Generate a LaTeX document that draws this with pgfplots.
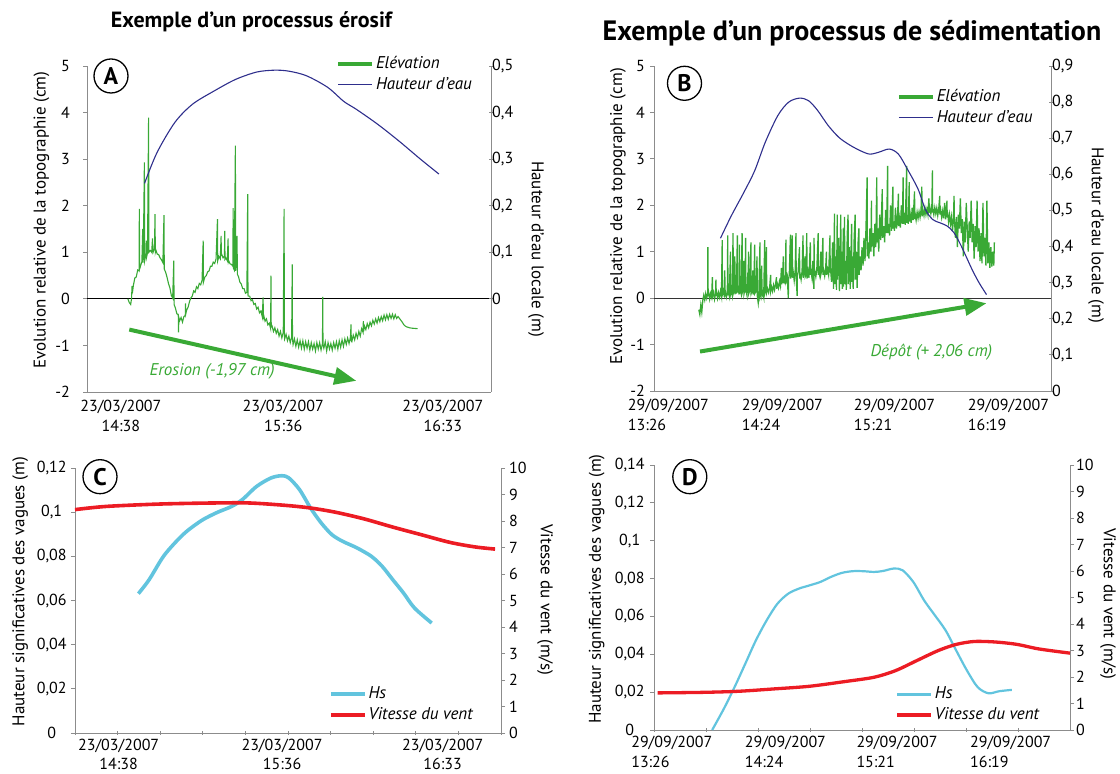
\documentclass[border=0pt]{standalone}
\usepackage{fontspec}
\setmainfont{PT Sans}
\usepackage{pgfplots}
\pgfplotsset{compat=1.18}
\usetikzlibrary{arrows.meta}
\definecolor{elev}{RGB}{57,169,53}
\definecolor{eau}{RGB}{46,46,140}
\definecolor{hs}{RGB}{98,196,222}
\definecolor{vent}{RGB}{236,28,36}
\definecolor{axg}{RGB}{140,140,140}
\newcommand\tf{\fontsize{16}{19.5}\selectfont}
\newcommand\lf{\fontsize{17}{20}\selectfont}
\pgfplotsset{
  panel/.style={scale only axis, clip=false,
    axis line style={draw=axg, line width=0.9pt},
    tick style={draw=axg, line width=0.9pt},
    major tick length=4pt,
    ticklabel style={font=\tf, inner sep=2pt},
    xticklabel style={yshift=-2pt}},
  leftax/.style={panel, axis x line*=bottom, axis y line*=left, tick align=outside},
  rightax/.style={panel, axis x line=none, axis y line*=right, tick align=center},
  leg/.style={legend style={draw=none, fill=none, inner sep=0pt, font=\lf\itshape,
      row sep=2pt, nodes={inner sep=2pt, text height=12pt, text depth=3pt}},
    legend cell align=left,
    legend image code/.code={\draw[##1] (0pt,0pt) -- (34pt,0pt);}},
}
\begin{document}
\begin{tikzpicture}
\path[use as bounding box] (0pt,0pt) rectangle (1120pt,774pt);
\node[font=\fontsize{22}{26}\selectfont\bfseries] at (251.5pt,752pt) {Exemple d'un processus érosif};
\node[font=\fontsize{28}{32}\selectfont\bfseries] at (852pt,741pt) {Exemple d'un processus de sédimentation};

% ================= Panel A =================
\begin{axis}[leftax, at={(87pt,382pt)}, anchor=south west, width=404pt, height=326pt,
  xmin=-12.1, xmax=132.2, ymin=-2, ymax=5,
  xtick={0,58,115}, xticklabels={{23/03/2007\\14:38},{23/03/2007\\15:36},{23/03/2007\\16:33}},
  xticklabel style={align=center}, xtick style={draw=none},
  ytick={-2,-1,0,1,2,3,4,5}, yticklabels={-2,-1,0,1,2,3,4,5}, yticklabel style={xshift=-11pt}]
\draw[black, line width=0.9pt] (axis cs:-12.1,0) -- (axis cs:132.2,0);
\addplot[elev, line width=1.1pt] table {
2.5 0.0
3.0 -0.08
3.5 -0.12
3.8 0.0
4.0 0.28
4.1 0.12
4.5 0.3
5.0 0.45
5.5 0.47
6.0 0.62
6.5 0.6
6.6 1.93
6.7 0.64
7.0 0.7
7.5 0.8
7.8 1.5
7.9 0.78
8.0 0.86
8.4 2.93
8.5 0.82
9.0 0.97
9.1 1.25
9.2 0.9
9.5 0.98
9.9 3.89
10.0 1.0
10.5 1.04
11.0 1.0
11.3 1.3
11.4 1.06
11.5 1.0
12.0 1.08
12.2 1.82
12.3 1.0
12.5 1.05
13.0 0.96
13.5 0.95
14.0 0.88
14.5 0.84
15.0 0.78
15.4 1.8
15.5 0.64
16.0 0.57
16.5 0.46
17.0 0.33
17.5 0.24
18.0 0.08
18.5 0.02
18.9 0.82
19.0 -0.12
19.5 -0.2
20.0 -0.32
20.5 -0.34
20.6 -0.72
20.7 -0.4
21.0 -0.47
21.5 -0.4
22.0 -0.5
22.5 -0.38
23.0 -0.36
23.1 -0.1
23.2 -0.32
23.5 -0.24
24.0 -0.18
24.5 -0.06
25.0 0.02
25.5 0.06
26.0 0.17
26.5 0.14
27.0 0.26
27.5 0.22
28.0 0.33
28.5 0.3
29.0 0.4
29.4 1.25
29.5 0.36
30.0 0.47
30.5 0.5
31.0 0.58
31.5 0.6
32.0 0.7
32.5 0.7
33.0 0.79
33.5 0.76
34.0 0.86
34.5 1.71
34.6 0.82
35.0 0.91
35.5 0.86
35.8 1.35
35.9 0.92
36.0 0.96
36.5 0.88
37.0 0.92
37.1 1.46
37.2 0.85
37.5 0.88
38.0 0.82
38.3 1.3
38.4 0.8
38.5 0.82
39.0 0.75
39.5 0.74
40.0 0.7
40.1 1.95
40.2 0.66
40.5 0.62
40.9 3.29
41.0 0.6
41.5 1.35
41.6 0.53
42.0 0.48
42.5 0.36
43.0 0.32
43.5 0.22
44.0 0.22
44.5 0.12
45.0 0.14
45.3 2.25
45.4 0.08
45.5 0.06
46.0 0.06
46.5 -0.04
47.0 -0.02
47.5 -0.12
48.0 -0.1
48.5 -0.22
49.0 -0.18
49.5 -0.3
50.0 -0.26
50.5 -0.38
50.8 0.03
50.9 -0.38
51.0 -0.35
51.5 -0.48
52.0 -0.43
52.5 -0.56
53.0 -0.52
53.5 -0.64
53.6 0.5
53.7 -0.6
54.0 -0.58
54.5 -0.7
55.0 -0.62
55.5 -0.74
56.0 -0.66
56.5 -0.8
57.0 -0.7
57.5 -0.84
58.0 -0.72
58.3 1.93
58.4 -0.78
58.5 -0.86
59.0 -0.76
59.5 -0.9
60.0 -0.8
60.5 -0.94
61.0 -0.82
61.2 0.74
61.3 -0.86
61.5 -0.98
62.0 -0.86
62.5 -1.02
63.0 -0.88
63.5 -1.04
64.0 -0.9
64.5 -1.06
65.0 -0.9
65.5 -1.08
66.0 -0.92
66.5 -1.06
67.0 -0.92
67.5 -1.1
68.0 -0.94
68.5 -1.08
69.0 -0.96
69.5 -1.12
70.0 -0.94
70.5 -1.08
71.0 -0.94
71.5 -1.1
72.0 -0.96
72.1 0.04
72.2 -0.98
72.5 -1.06
73.0 -0.92
73.5 -1.12
74.0 -0.94
74.5 -1.08
75.0 -0.96
75.5 -1.1
76.0 -0.94
76.5 -1.06
77.0 -0.92
77.5 -1.08
78.0 -0.9
78.5 -1.04
79.0 -0.88
79.5 -1.02
80.0 -0.86
80.5 -0.98
81.0 -0.84
81.5 -0.96
82.0 -0.82
82.2 -0.55
82.3 -0.9
82.5 -0.92
83.0 -0.78
83.5 -0.88
84.0 -0.74
84.5 -0.84
85.0 -0.7
85.5 -0.8
86.0 -0.64
86.5 -0.72
86.6 -0.48
86.7 -0.7
87.0 -0.58
87.5 -0.66
88.0 -0.53
88.5 -0.62
89.0 -0.5
89.5 -0.58
90.0 -0.46
90.5 -0.54
91.0 -0.43
91.5 -0.52
92.0 -0.4
92.5 -0.49
93.0 -0.38
93.5 -0.47
94.0 -0.35
94.5 -0.45
95.0 -0.34
95.5 -0.44
96.0 -0.33
96.5 -0.42
97.0 -0.33
97.5 -0.43
98.0 -0.34
98.5 -0.42
99.0 -0.38
99.5 -0.42
100.0 -0.46
100.5 -0.5
101.0 -0.55
101.5 -0.58
102.0 -0.6
103.0 -0.62
104.0 -0.63
106.0 -0.64
};
\draw[elev, line width=4pt, -{Triangle[length=22pt,width=17pt]}] (axis cs:3,-0.66) -- (axis cs:84.1,-1.76);
\node[text=elev, font=\lf\itshape] at (axis cs:32.6,-1.56) {Erosion (-1,97 cm)};
\end{axis}
\begin{axis}[rightax, leg, at={(87pt,382pt)}, anchor=south west, width=404pt, height=326pt,
  xmin=-12.1, xmax=132.2, ymin=-0.2, ymax=0.5,
  ytick={0,0.1,0.2,0.3,0.4,0.5}, yticklabels={0,{0,1},{0,2},{0,3},{0,4},{0,5}},
  yticklabel style={xshift=-3pt},
  legend style={at={(0.616,1.037)}, anchor=north west}]
\addplot[eau, line width=1.1pt, smooth, forget plot] coordinates {
(8.45,0.248) (12.9,0.314) (19.3,0.379) (25.6,0.418) (33.2,0.446) (40.9,0.471) (48.5,0.487)
(54.8,0.491) (59.9,0.489) (66.3,0.479) (73.9,0.454) (79.6,0.424) (84.1,0.407) (91.7,0.375)
(99.3,0.339) (107.0,0.3) (113.6,0.268)};
\addlegendimage{elev, line width=4pt}
\addlegendentry{Elévation}
\addlegendimage{eau, line width=1.2pt}
\addlegendentry{Hauteur d'eau}
\end{axis}

% ================= Panel B =================
\begin{axis}[leftax, at={(654pt,383pt)}, anchor=south west, width=397pt, height=325pt,
  xmin=-7.3, xmax=194.6, ymin=-2, ymax=5,
  xtick={0,58,115,173}, xticklabels={{29/09/2007\\13:26},{29/09/2007\\14:24},{29/09/2007\\15:21},{29/09/2007\\16:19}},
  xticklabel style={align=left}, xtick style={draw=none},
  ytick={-2,-1,0,1,2,3,4,5}, yticklabels={-2,-1,0,1,2,3,4,5}, yticklabel style={xshift=-3pt}]
\draw[black!80, line width=0.9pt] (axis cs:-7.3,0) -- (axis cs:194.6,0);
\addplot[elev, line width=1.3pt] table {
15.5 -0.25
16.0 -0.35
16.5 -0.15
17.0 -0.3
17.5 -0.05
18.0 0.06
18.5 -0.04
19.0 0.1
19.5 0.0
20.0 0.1
20.1 1.1
20.2 0.04
20.5 0.12
21.0 -0.02
21.5 0.1
22.0 0.02
22.4 0.45
22.5 0.04
23.0 0.12
23.5 -0.02
24.0 0.1
24.2 0.4
24.3 0.05
24.5 0.14
25.0 0.0
25.5 0.12
26.0 0.02
26.5 0.15
27.0 0.04
27.4 1.25
27.5 0.08
28.0 0.16
28.5 0.03
28.7 0.6
28.8 0.1
29.0 0.14
29.5 0.02
30.0 0.12
30.2 1.35
30.3 0.06
30.5 0.15
31.0 0.05
31.6 1.0
31.7 0.1
32.0 0.16
32.5 0.06
32.9 1.4
33.0 0.1
33.5 0.18
33.8 0.9
33.9 0.08
34.0 0.12
34.5 0.5
34.6 0.1
35.1 1.35
35.2 0.12
35.5 0.2
36.0 0.08
36.2 1.15
36.3 0.1
36.5 0.2
37.0 0.1
37.5 1.4
37.6 0.12
38.0 0.18
38.4 0.8
38.5 0.1
39.0 0.2
39.3 1.3
39.4 0.12
39.5 0.16
40.0 0.06
40.4 0.55
40.5 0.12
40.8 1.0
40.9 0.1
41.5 0.18
42.0 1.2
42.1 0.1
42.5 0.16
43.0 0.6
43.1 0.08
43.5 0.18
43.9 1.15
44.0 0.1
44.5 0.14
45.1 0.9
45.2 0.06
45.7 -0.1
46.0 0.06
46.6 1.2
46.7 0.04
47.0 0.1
47.5 0.7
47.6 0.05
48.0 0.12
48.5 0.02
49.0 1.25
49.1 0.1
49.5 0.16
49.9 1.1
50.0 0.12
50.5 0.2
51.0 0.12
51.5 0.22
52.0 0.5
52.1 0.16
52.5 0.24
53.0 0.15
53.5 0.28
54.0 0.18
54.5 0.3
55.0 0.45
55.1 0.2
55.5 0.3
56.0 0.22
56.5 0.36
57.0 0.26
57.5 0.65
57.6 0.3
58.0 0.4
58.5 0.9
58.6 0.32
59.0 0.42
59.5 0.3
59.8 1.26
59.9 0.36
60.5 0.46
61.0 0.0
61.1 0.4
61.5 0.5
62.1 1.37
62.2 0.42
62.5 0.52
63.0 1.35
63.1 0.44
63.5 0.56
64.0 0.38
64.5 0.6
64.9 1.4
65.0 0.46
65.5 0.05
65.6 0.48
66.0 0.56
66.7 1.1
66.8 0.42
67.0 0.52
67.5 0.4
68.0 0.58
68.5 1.35
68.6 0.44
69.0 0.56
69.5 0.9
69.6 0.46
70.0 0.5
70.4 1.4
70.5 0.42
71.0 0.58
71.5 0.44
72.2 1.2
72.3 0.5
72.5 0.6
73.0 0.45
73.5 0.8
73.6 0.5
74.0 0.2
74.1 1.3
74.2 0.48
74.5 0.58
75.0 0.46
75.5 0.62
76.2 1.4
76.3 0.5
76.5 0.58
77.0 0.48
77.5 1.0
77.6 0.52
78.0 0.6
78.6 1.3
78.7 0.5
79.0 0.6
79.5 0.48
80.0 0.64
80.4 1.0
80.5 0.5
81.0 0.62
81.5 0.5
82.2 1.35
82.3 0.55
82.5 0.62
83.0 0.35
83.5 1.2
84.0 0.2
84.5 1.82
84.6 0.3
85.0 0.9
85.5 0.18
85.9 1.8
86.0 0.4
86.5 1.3
87.0 0.15
87.7 1.8
87.8 0.3
88.0 1.0
88.5 0.2
89.0 1.5
89.1 0.25
89.6 1.75
89.7 0.3
90.0 0.8
90.5 0.18
91.0 1.4
91.4 1.8
91.5 0.3
92.0 1.1
92.5 0.2
93.0 1.2
93.2 1.6
93.3 0.35
93.5 0.9
94.0 0.2
94.5 1.3
95.0 1.8
95.1 0.4
95.5 1.0
96.0 0.22
96.5 1.2
96.9 1.5
97.0 0.5
97.5 0.9
98.0 0.6
98.5 1.1
99.0 0.7
99.5 1.3
100.0 0.8
100.5 1.5
101.1 2.6
101.2 0.9
101.5 1.2
102.0 0.85
102.5 1.5
103.0 1.0
103.3 2.1
103.4 1.1
104.0 1.4
104.5 0.9
105.0 1.6
105.5 1.1
106.0 2.6
106.1 1.2
106.5 1.5
107.0 1.0
107.5 1.8
108.0 1.25
108.8 2.35
108.9 1.3
109.5 1.55
110.0 1.2
110.5 1.9
111.0 1.4
111.5 2.85
111.6 1.4
112.0 1.6
112.5 1.35
113.0 2.0
113.5 1.45
114.2 2.4
114.3 1.5
114.5 1.65
115.0 1.45
115.5 1.95
116.0 1.5
116.5 1.7
117.0 2.25
117.1 1.55
117.5 1.72
118.0 1.52
118.5 2.0
119.0 1.6
119.4 2.6
119.5 1.6
120.0 1.75
120.5 1.58
121.2 2.85
121.3 1.62
121.5 1.78
122.0 1.6
122.5 2.5
122.6 1.65
123.0 1.8
123.5 1.62
124.0 1.95
124.5 1.68
125.2 2.3
125.3 1.7
125.5 1.82
126.0 1.68
126.5 1.85
127.0 1.72
127.5 1.86
128.0 1.74
128.5 1.9
128.9 2.4
129.0 1.76
129.5 1.9
130.0 1.78
130.5 1.94
131.0 1.8
131.5 1.92
132.0 1.8
132.5 2.15
132.6 1.84
133.0 1.95
133.5 1.82
134.0 1.96
134.3 2.75
134.4 1.84
134.5 1.92
135.0 1.8
135.5 1.95
136.0 1.82
136.5 1.94
137.0 1.78
137.5 1.92
138.0 2.2
138.1 1.8
138.5 1.9
139.0 1.74
139.5 1.88
140.0 1.72
140.5 2.05
141.0 1.7
141.7 2.1
141.8 1.74
142.0 1.85
142.5 1.64
143.0 1.8
143.5 1.6
144.0 1.75
144.5 1.45
145.0 1.72
145.3 2.2
145.4 1.6
145.5 1.7
146.0 1.3
146.5 1.75
147.0 1.1
147.5 1.8
148.0 1.5
148.5 2.15
149.0 1.4
149.5 1.7
150.0 0.9
150.5 1.65
151.0 1.2
151.5 2.05
152.0 1.5
152.5 1.0
153.0 1.65
153.5 1.3
154.0 2.1
154.5 1.2
155.0 1.6
155.5 0.85
156.0 1.55
156.5 1.1
157.0 2.1
157.5 1.0
158.0 1.5
158.5 0.8
159.0 1.4
159.5 0.75
160.0 2.05
160.5 0.9
161.0 1.3
161.5 0.7
162.0 2.1
162.5 0.75
163.0 1.2
163.5 0.65
164.0 1.1
164.5 0.68
165.0 1.0
165.5 0.7
165.8 1.2
};
\draw[elev, line width=4pt, -{Triangle[length=22pt,width=17pt]}] (axis cs:16.1,-1.15) -- (axis cs:161.8,-0.11);
\node[text=elev, font=\lf\itshape] at (axis cs:133.8,-1.17) {Dépôt (+ 2,06 cm)};
\end{axis}
\begin{axis}[rightax, leg, at={(654pt,383pt)}, anchor=south west, width=397pt, height=325pt,
  xmin=-7.3, xmax=194.6, ymin=0, ymax=0.9,
  ytick={0,0.1,0.2,0.3,0.4,0.5,0.6,0.7,0.8,0.9},
  yticklabels={0,{0,1},{0,2},{0,3},{0,4},{0,5},{0,6},{0,7},{0,8},{0,9}},
  yticklabel style={xshift=-3pt},
  legend style={at={(0.611,0.935)}, anchor=north west}]
\addplot[eau, line width=1.1pt, smooth, forget plot] coordinates {
(26.5,0.423) (32.0,0.485) (38.4,0.55) (43.9,0.61) (49.3,0.689) (55.7,0.763) (61.2,0.8)
(66.7,0.811) (71.3,0.804) (75.9,0.777) (81.3,0.735) (86.8,0.702) (92.3,0.681) (97.8,0.665)
(102.4,0.656) (106.9,0.661) (112.4,0.67) (117.0,0.656) (121.6,0.614) (127.0,0.559)
(130.7,0.503) (134.4,0.475) (138.0,0.466) (141.7,0.457) (145.3,0.438) (149.0,0.401)
(154.5,0.336) (158.1,0.299) (161.8,0.267)};
\addlegendimage{elev, line width=4pt}
\addlegendentry{Elévation}
\addlegendimage{eau, line width=1.2pt}
\addlegendentry{Hauteur d'eau}
\end{axis}

% ================= Panel C =================
\begin{axis}[leftax, at={(75pt,41pt)}, anchor=south west, width=426pt, height=265pt,
  xmin=-15.5, xmax=135.7, ymin=0, ymax=0.12,
  xtick={-15.5,-0.38,14.74,29.86,44.98,60.1,75.22,90.34,105.46,120.58,135.7}, xticklabels={},
  xtick align=center,
  extra x ticks={0,58,115},
  extra x tick labels={{23/03/2007\\14:38},{23/03/2007\\15:36},{23/03/2007\\16:33}},
  extra x tick style={xtick style={draw=none}},
  xticklabel style={align=center, yshift=0.5pt},
  ytick={0,0.02,0.04,0.06,0.08,0.1,0.12}, yticklabels={0,{0,02},{0,04},{0,06},{0,08},{0,1},{0,12}},
  yticklabel style={anchor=center, xshift=-19.3pt}]
\addplot[hs, line width=3.6pt, smooth] coordinates {
(7.0,0.0631) (10.8,0.0694) (15.9,0.08) (21.0,0.0875) (24.8,0.092) (29.9,0.0966) (35.0,0.0999)
(40.1,0.1026) (43.9,0.1057) (49.0,0.1117) (54.1,0.1155) (57.9,0.1165) (60.4,0.1155)
(64.2,0.1102) (68.1,0.1019) (71.9,0.0951) (75.7,0.0898) (79.5,0.0868) (84.6,0.0838)
(89.7,0.08) (93.5,0.0755) (97.3,0.0694) (101.1,0.0634) (105.0,0.0566) (111.1,0.0498)};
\end{axis}
\begin{axis}[rightax, leg, at={(75pt,41pt)}, anchor=south west, width=426pt, height=265pt,
  xmin=-15.5, xmax=135.7, ymin=0, ymax=10,
  ytick={0,1,...,10}, yticklabels={0,1,2,3,4,5,6,7,8,9,10}, tick align=outside,
  yticklabel style={xshift=2pt},
  legend style={at={(0.596,0.183)}, anchor=north west}]
\addplot[vent, line width=3.6pt, smooth, forget plot] coordinates {
(-15.5,8.43) (-4.4,8.55) (14.6,8.64) (33.7,8.68) (46.4,8.68) (59.2,8.59) (68.1,8.49)
(77.0,8.33) (87.1,8.08) (97.3,7.77) (107.5,7.48) (117.7,7.19) (126.6,7.02) (133.6,6.94)};
\addlegendimage{hs, line width=3.5pt}
\addlegendentry{Hs}
\addlegendimage{vent, line width=3.5pt}
\addlegendentry{Vitesse du vent}
\end{axis}

% ================= Panel D =================
\begin{axis}[leftax, at={(654pt,44pt)}, anchor=south west, width=416pt, height=265pt,
  xmin=-9.1, xmax=203.3, ymin=0, ymax=0.14,
  xtick={-9.1,17.46,44.02,70.58,97.14,123.7,150.26,176.82,203.38}, xticklabels={},
  xtick align=center,
  extra x ticks={0,58,115,173},
  extra x tick labels={{29/09/2007\\13:26},{29/09/2007\\14:24},{29/09/2007\\15:21},{29/09/2007\\16:19}},
  extra x tick style={xtick style={draw=none}},
  xticklabel style={align=left},
  ytick={0,0.02,0.04,0.06,0.08,0.1,0.12,0.14}, yticklabels={0,{0,02},{0,04},{0,06},{0,08},{0,1},{0,12},{0,14}},
  yticklabel style={anchor=center, xshift=-20.3pt}]
\addplot[hs, line width=2.2pt, smooth] coordinates {
(20.6,0) (26.5,0.0111) (32.0,0.0226) (37.5,0.035) (42.9,0.0473) (48.4,0.0579) (53.9,0.0667)
(59.4,0.072) (64.9,0.0747) (70.3,0.0764) (75.8,0.0782) (81.3,0.0809) (86.8,0.083)
(92.3,0.0839) (97.7,0.0839) (103.2,0.0835) (107.8,0.084) (113.3,0.0853) (117.8,0.0844)
(123.3,0.0782) (128.8,0.0685) (134.3,0.0606) (139.8,0.0526) (145.2,0.042) (150.7,0.0314)
(156.2,0.0226) (161.7,0.0194) (167.2,0.0205) (173.6,0.0212)};
\end{axis}
\begin{axis}[rightax, leg, at={(654pt,44pt)}, anchor=south west, width=416pt, height=265pt,
  xmin=-9.1, xmax=203.3, ymin=0, ymax=10,
  ytick={0,1,...,10}, yticklabels={0,1,2,3,4,5,6,7,8,9,10}, tick align=outside,
  yticklabel style={xshift=0pt},
  legend style={at={(0.580,0.172)}, anchor=north west}]
\addplot[vent, line width=3.3pt, smooth, forget plot] coordinates {
(-7.3,1.4) (15.5,1.42) (33.8,1.46) (52.1,1.55) (70.3,1.65) (88.6,1.83) (103.2,1.99)
(114.2,2.24) (125.1,2.62) (136.1,3.0) (145.2,3.23) (154.4,3.34) (165.3,3.32) (176.3,3.23)
(187.3,3.06) (203.3,2.9)};
\addlegendimage{hs, line width=3pt}
\addlegendentry{Hs}
\addlegendimage{vent, line width=3.5pt}
\addlegendentry{Vitesse du vent}
\end{axis}

% axis titles
\node[rotate=90, font=\lf] at (41.4pt,554pt) {Evolution relative de la topographie (cm)};
\node[rotate=-90, font=\lf] at (536pt,525pt) {Hauteur d'eau locale (m)};
\node[rotate=90, font=\lf] at (618pt,557.5pt) {Evolution relative de la topographie (cm)};
\node[rotate=-90, font=\lf] at (1096pt,539pt) {Hauteur d'eau locale (m)};
\node[rotate=90, font=\lf] at (20.2pt,182.3pt) {Hauteur significatives des vagues (m)};
\node[rotate=-90, font=\lf] at (545pt,174pt) {Vitesse du vent (m/s)};
\node[rotate=90, font=\lf] at (596.8pt,185pt) {Hauteur significatives des vagues (m)};
\node[rotate=-90, font=\lf] at (1108pt,170pt) {Vitesse du vent (m/s)};

% panel letters
\foreach \p/\q/\t in {111/698/A,684.5/690.7/B,100/297.3/C,689.8/297.3/D}
  \node[draw, circle, line width=1.3pt, minimum size=34pt, inner sep=0pt,
    font=\fontsize{24}{24}\selectfont\bfseries] at (\p pt,\q pt) {\t};
\end{tikzpicture}
\end{document}
